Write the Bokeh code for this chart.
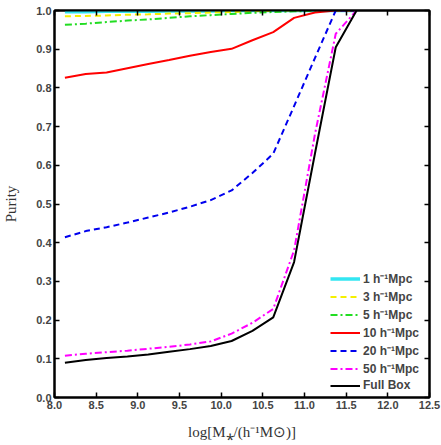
from bokeh.plotting import figure
from bokeh.models import LinearAxis, Legend, LegendItem, NumeralTickFormatter, FixedTicker, Range1d
from bokeh.embed import file_html
from bokeh.resources import INLINE

# Stellar-mass bin centres, log[M*/(h^-1 Msun)]
log_mass = [8.125, 8.375, 8.625, 8.875, 9.125, 9.375, 9.625, 9.875,
            10.125, 10.375, 10.625, 10.875, 11.125, 11.375, 11.625]

# Purity for each search radius
purity_1 = [0.997, 0.997, 0.998, 0.998, 0.998, 0.999, 0.999, 0.999,
            1.0, 1.0, 1.0, 1.0, 1.0, 1.0, 1.0]
purity_3 = [0.985, 0.986, 0.987, 0.989, 0.990, 0.992, 0.993, 0.995,
            0.996, 0.998, 0.999, 1.0, 1.0, 1.0, 1.0]
purity_5 = [0.963, 0.966, 0.970, 0.974, 0.977, 0.981, 0.985, 0.988,
            0.991, 0.994, 0.996, 0.998, 0.999, 1.0, 1.0]
purity_10 = [0.826, 0.836, 0.840, 0.851, 0.862, 0.872, 0.883, 0.893,
             0.901, 0.923, 0.944, 0.981, 0.995, 1.0, 1.0]
purity_20 = [0.414, 0.430, 0.440, 0.452, 0.465, 0.478, 0.493, 0.510,
             0.535, 0.580, 0.630, 0.753, 0.877, 1.0, 1.0]
purity_50 = [0.108, 0.113, 0.117, 0.121, 0.126, 0.131, 0.137, 0.145,
             0.165, 0.193, 0.229, 0.380, 0.680, 0.940, 1.0]
purity_full = [0.090, 0.097, 0.102, 0.106, 0.111, 0.118, 0.125, 0.133,
               0.146, 0.172, 0.207, 0.350, 0.630, 0.905, 1.0]

labels = ["1 h\u207b\u00b9Mpc", "3 h\u207b\u00b9Mpc", "5 h\u207b\u00b9Mpc",
          "10 h\u207b\u00b9Mpc", "20 h\u207b\u00b9Mpc", "50 h\u207b\u00b9Mpc", "Full Box"]

x_ticks = [8.0, 8.5, 9.0, 9.5, 10.0, 10.5, 11.0, 11.5, 12.0, 12.5]
y_ticks = [0.0, 0.1, 0.2, 0.3, 0.4, 0.5, 0.6, 0.7, 0.8, 0.9, 1.0]

p = figure(frame_width=375, frame_height=387, output_backend="svg", toolbar_location=None,
           x_range=Range1d(8.0, 12.5), y_range=Range1d(0.0, 1.0),
           min_border_left=52, min_border_right=14, min_border_top=10, min_border_bottom=48)
p.xgrid.visible = False
p.ygrid.visible = False
p.outline_line_color = "black"
p.outline_line_width = 2
p.background_fill_color = "white"
p.border_fill_color = "white"

tick_font = "Liberation Sans"

def style_axis(ax, ticks, show_labels):
    ax.ticker = FixedTicker(ticks=ticks)
    ax.formatter = NumeralTickFormatter(format="0.0")
    ax.major_tick_in = 5
    ax.major_tick_out = 0
    ax.minor_tick_line_color = None
    ax.axis_line_width = 2
    ax.major_tick_line_width = 1.5
    ax.major_label_text_font = tick_font
    ax.major_label_text_font_style = "bold"
    ax.major_label_text_font_size = "11px"
    ax.major_label_standoff = 3
    if not show_labels:
        # mirrored axis: tick marks only
        ax.major_label_text_color = None
        ax.major_label_standoff = 0

style_axis(p.xaxis[0], x_ticks, True)
style_axis(p.yaxis[0], y_ticks, True)

p.xaxis.axis_label = "log[M\u204e/(h\u207b\u00b9M\u2299)]"
p.yaxis.axis_label = "Purity"
for ax in (p.xaxis[0], p.yaxis[0]):
    ax.axis_label_text_font = "Liberation Serif"
    ax.axis_label_text_font_style = "normal"
    ax.axis_label_text_font_size = "15px"
    ax.axis_label_text_color = "#333333"
p.xaxis.axis_label_standoff = 12
p.yaxis.axis_label_standoff = 14

top_axis = LinearAxis()
right_axis = LinearAxis()
style_axis(top_axis, x_ticks, False)
style_axis(right_axis, y_ticks, False)
p.add_layout(top_axis, "above")
p.add_layout(right_axis, "right")

series = [
    (purity_1, "#33e6f2", None, 3.5),
    (purity_3, "#f5f000", "6 4", 2),
    (purity_5, "#22dd22", "7 3 2 3", 2),
    (purity_10, "#ff0000", None, 2),
    (purity_20, "#0000ee", "6 4", 2),
    (purity_50, "#ff00ff", "7 3 2 3", 2),
    (purity_full, "#000000", None, 2),
]

items = []
for (vals, color, dash, lw), lab in zip(series, labels):
    kw = dict(line_color=color, line_width=lw)
    if dash:
        kw["line_dash"] = dash
    r = p.line(log_mass, vals, **kw)
    items.append(LegendItem(label=lab, renderers=[r]))

legend = Legend(items=items, location=(276, 5))
legend.label_text_font = tick_font
legend.label_text_font_style = "bold"
legend.label_text_font_size = "12px"
legend.glyph_width = 30
legend.glyph_height = 13
legend.label_height = 13
legend.spacing = 1
legend.label_standoff = 3
legend.padding = 2
legend.margin = 0
legend.border_line_color = None
legend.background_fill_alpha = 1.0
p.add_layout(legend, "center")

with open("out.html", "w") as f:
    f.write(file_html(p, INLINE))
